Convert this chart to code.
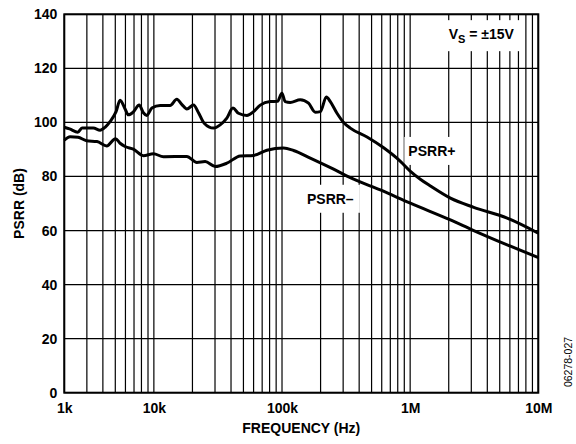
<!DOCTYPE html>
<html>
<head>
<meta charset="utf-8">
<script src="https://cdn.jsdelivr.net/npm/d3@7"></script>
<style>
  body { margin: 0; background: #fff; }
  svg { display: block; }
</style>
</head>
<body>
<svg id="chart"></svg>
<script>
let width = 576;
let height = 444;
let margin = { top: 14.3, right: 37.7, bottom: 51.3, left: 64.3 };
let font = "Arial, 'Liberation Sans', Helvetica, sans-serif";

// grid really starts at 2 kHz, the original still labels the left edge "1k"
let freqTicks = [2000, 1e4, 1e5, 1e6, 1e7];
let freqLabels = ["1k", "10k", "100k", "1M", "10M"];
let psrrTicks = [0, 20, 40, 60, 80, 100, 120, 140];

let plusFreq = [
  2000, 2200, 2550, 2750, 3370, 3800, 4160, 4550, 5070, 5450, 5960, 6320,
  6920, 7670, 8280, 8800, 9640, 11200, 13400, 15100, 16500, 18100, 20400,
  22300, 24700, 29200, 32900, 37100, 41400, 45700, 53200, 60000, 67600,
  80900, 92300, 99800, 105900, 115900, 138700, 161100, 181900, 199000,
  221800, 238200, 268600, 302600, 341200, 460800, 621000, 839000, 1000000,
  1200000, 1439000, 2062000, 3134000, 5716000, 10000000,
];
let plusDb = [
  98.2, 97.6, 96.4, 97.9, 97.9, 97.1, 98.2, 100.3, 104.0, 108.2, 105.0, 102.8,
  103.9, 106.4, 103.6, 102.6, 105.3, 106.3, 106.3, 108.6, 106.7, 105.0, 106.4,
  103.6, 99.7, 97.9, 99.1, 101.6, 105.3, 103.4, 102.6, 104.0, 106.4,
  107.7, 107.8, 110.8, 107.7, 107.4, 108.4, 107.1, 103.8, 104.0,
  109.4, 107.7, 103.4, 100.0, 97.9, 94.6, 90.6, 85.6, 82.0,
  79.0, 76.5, 72.0, 68.6, 64.6, 59.0,
];

let minusFreq = [
  2000, 2220, 2560, 2990, 3600, 4290, 5020, 5450, 5960, 6920, 8280, 9920,
  11870, 18080, 21640, 25140, 30090, 37120, 47180, 59960, 76250, 102800,
  123000, 166200, 252800, 362200, 585000, 1004000, 2062000, 3134000,
  5716000, 10000000,
];
let minusDb = [
  93.4, 94.7, 94.5, 93.2, 92.9, 91.3, 94.0, 92.3, 91.1, 90.1, 87.7, 88.4,
  87.3, 87.4, 85.2, 85.5, 83.7, 84.9, 87.6, 87.8, 89.7, 90.5,
  89.6, 86.8, 82.7, 79.0, 75.0, 70.1, 63.9, 60.0,
  54.7, 50.0,
];

let svg = d3
  .select("svg#chart")
  .attr("width", width)
  .attr("height", height)
  .style("background", "#fff")
  .style("font-family", font);

let xScale = d3
  .scaleLog()
  .domain([2000, 1e7])
  .range([margin.left, width - margin.right]);

let yScale = d3
  .scaleLinear()
  .domain([0, 140])
  .range([height - margin.bottom, margin.top]);

drawGrid();
drawLabelBoxes();
drawCurves();
drawFrame();
drawAxes();
drawTitles();

function drawGrid() {
  let g = svg.append("g").attr("stroke", "#000").attr("stroke-width", 1.2);

  g.selectAll("line.vgrid")
    .data(xScale.ticks())
    .join("line")
    .attr("class", "vgrid")
    .attr("x1", (d) => xScale(d))
    .attr("x2", (d) => xScale(d))
    .attr("y1", yScale(0))
    .attr("y2", yScale(140));

  g.selectAll("line.hgrid")
    .data(psrrTicks)
    .join("line")
    .attr("class", "hgrid")
    .attr("x1", xScale(2000))
    .attr("x2", xScale(1e7))
    .attr("y1", (d) => yScale(d))
    .attr("y2", (d) => yScale(d));
}

function drawLabelBoxes() {
  let labels = [
    { f: 2.0e6, db: 130.8, padX: 8, padY: 8, parts: [["V", 0], ["S", 4], [" = ±15V", -4]] },
    { f: 968000, db: 87.6, padX: 4, padY: 8, parts: [["PSRR+", 0]] },
    { f: 156600, db: 69.9, padX: 6, padY: 8, parts: [["PSRR\u2013", 0]] },
  ];

  let boxLayer = svg.append("g");
  let textLayer = svg.append("g");

  labels.forEach((l) => {
    let t = textLayer
      .append("text")
      .attr("x", xScale(l.f))
      .attr("y", yScale(l.db))
      .attr("font-size", 14)
      .attr("font-weight", "bold")
      .attr("fill", "#000");

    l.parts.forEach((p) => {
      let span = t.append("tspan").attr("dy", p[1]).text(p[0]);
      if (p[0] === "S") span.attr("font-size", 11);
    });

    let b = t.node().getBBox();
    boxLayer
      .append("rect")
      .attr("x", b.x - l.padX)
      .attr("y", b.y - l.padY + 2)
      .attr("width", b.width + 2 * l.padX)
      .attr("height", b.height + 2 * l.padY - 4)
      .attr("fill", "#fff");
  });
}

function drawCurves() {
  let line = d3
    .line()
    .x((d) => xScale(d[0]))
    .y((d) => yScale(d[1]))
    .curve(d3.curveMonotoneX);

  let series = [d3.zip(plusFreq, plusDb), d3.zip(minusFreq, minusDb)];

  svg
    .append("g")
    .selectAll("path")
    .data(series)
    .join("path")
    .attr("d", line)
    .attr("fill", "none")
    .attr("stroke", "#000")
    .attr("stroke-width", 3)
    .attr("stroke-linejoin", "round");
}

function drawFrame() {
  svg
    .append("rect")
    .attr("x", xScale(2000))
    .attr("y", yScale(140))
    .attr("width", xScale(1e7) - xScale(2000))
    .attr("height", yScale(0) - yScale(140))
    .attr("fill", "none")
    .attr("stroke", "#000")
    .attr("stroke-width", 2);
}

function drawAxes() {
  let xAxis = d3
    .axisBottom(xScale)
    .tickValues(freqTicks)
    .tickFormat((d, i) => freqLabels[i])
    .tickSize(0)
    .tickPadding(10);

  let yAxis = d3
    .axisLeft(yScale)
    .tickValues(psrrTicks)
    .tickSize(0)
    .tickPadding(7);

  svg
    .append("g")
    .attr("transform", `translate(0, ${yScale(0)})`)
    .call(xAxis)
    .call((g) => g.select(".domain").remove())
    .call((g) =>
      g.selectAll("text")
        .attr("fill", "#000")
        .style("font-family", font)
        .style("font-weight", "bold")
        .style("font-size", "14px")
    );

  svg
    .append("g")
    .attr("transform", `translate(${xScale(2000)}, 0)`)
    .call(yAxis)
    .call((g) => g.select(".domain").remove())
    .call((g) =>
      g.selectAll("text")
        .attr("fill", "#000")
        .style("font-family", font)
        .style("font-weight", "bold")
        .style("font-size", "14px")
    );
}

function drawTitles() {
  svg
    .append("text")
    .attr("x", (xScale(2000) + xScale(1e7)) / 2)
    .attr("y", 433)
    .attr("text-anchor", "middle")
    .attr("font-size", 14)
    .attr("font-weight", "bold")
    .text("FREQUENCY (Hz)");

  svg
    .append("text")
    .attr("transform", `translate(24, ${(yScale(0) + yScale(140)) / 2}) rotate(-90)`)
    .attr("text-anchor", "middle")
    .attr("font-size", 14)
    .attr("font-weight", "bold")
    .text("PSRR (dB)");

  svg
    .append("text")
    .attr("transform", `translate(572, 362) rotate(-90)`)
    .attr("text-anchor", "middle")
    .attr("font-size", 10.5)
    .attr("fill", "#000")
    .text("06278-027");
}
</script>
</body>
</html>
